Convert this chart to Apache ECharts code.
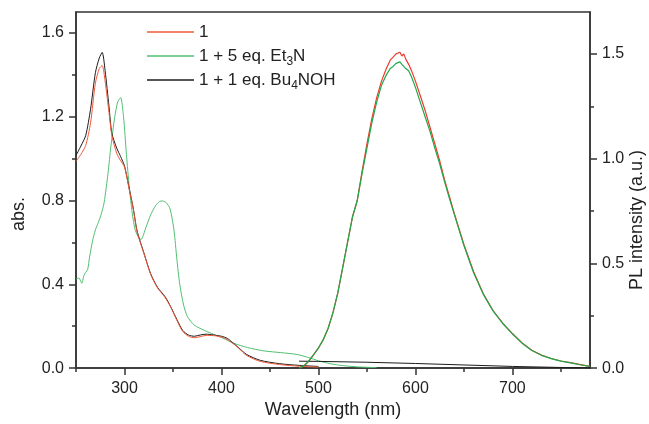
<!DOCTYPE html>
<html>
<head>
<meta charset="utf-8">
<script src="https://cdn.jsdelivr.net/npm/echarts@6/dist/echarts.min.js"></script>
<style>
  html, body { margin: 0; padding: 0; background: #fff; }
  #chart { width: 649px; height: 424px; }
</style>
</head>
<body>
<div id="chart"></div>
<script>
// absorption, shared wavelengths for "1" and Bu4NOH
const absWl = [250, 255, 260, 265, 270, 274, 277, 280, 284, 287, 292, 296, 300, 305, 309, 313, 320, 327, 334, 342, 348, 354, 360, 366, 372, 378, 384, 392, 400, 406, 412, 418, 426, 440, 460, 480, 500];
const absPlain = [0.987, 1.02, 1.063, 1.17, 1.36, 1.43, 1.444, 1.37, 1.22, 1.11, 1.025, 0.99, 0.96, 0.85, 0.76, 0.65, 0.548, 0.447, 0.383, 0.336, 0.288, 0.228, 0.175, 0.152, 0.145, 0.15, 0.156, 0.155, 0.148, 0.136, 0.117, 0.094, 0.06, 0.032, 0.017, 0.009, 0.005];
const absBu4NOH = [1.015, 1.06, 1.11, 1.236, 1.41, 1.48, 1.507, 1.42, 1.25, 1.12, 1.05, 1.01, 0.965, 0.855, 0.764, 0.655, 0.55, 0.45, 0.386, 0.34, 0.29, 0.232, 0.18, 0.158, 0.152, 0.158, 0.162, 0.158, 0.152, 0.142, 0.12, 0.096, 0.065, 0.037, 0.021, 0.013, 0.008];

// absorption with Et3N
const etWl = [250, 253, 256, 258, 260, 262, 264, 267, 270, 273, 276, 279, 283, 286, 290, 293, 296, 299, 302, 305, 308, 311, 315, 317, 322, 327, 332, 336, 339, 343, 347, 351, 354, 357, 361, 365, 372, 382, 392, 402, 413, 427, 444, 461, 478, 490, 500, 512, 525, 540, 560];
const absEt3N = [0.425, 0.43, 0.405, 0.44, 0.457, 0.47, 0.53, 0.606, 0.66, 0.695, 0.735, 0.79, 0.93, 1.06, 1.2, 1.27, 1.291, 1.2, 1.02, 0.86, 0.74, 0.66, 0.62, 0.614, 0.67, 0.732, 0.775, 0.795, 0.798, 0.79, 0.76, 0.66, 0.52, 0.4, 0.3, 0.245, 0.205, 0.181, 0.161, 0.142, 0.118, 0.098, 0.082, 0.074, 0.065, 0.05, 0.035, 0.021, 0.012, 0.006, 0.002];

// PL
const plWl = [480, 485, 490, 495, 500, 505, 510, 515, 520, 525, 530, 535, 540, 545, 550, 555, 560, 565, 570, 574, 577, 580, 582, 584, 586, 588, 590, 593, 596, 600, 605, 610, 615, 620, 625, 630, 635, 640, 645, 650, 660, 670, 680, 690, 700, 710, 720, 730, 740, 750, 760, 770, 780];
const plPlain = [0.0, 0.01, 0.032, 0.063, 0.095, 0.135, 0.19, 0.265, 0.36, 0.48, 0.6, 0.72, 0.8, 0.94, 1.07, 1.19, 1.29, 1.37, 1.43, 1.47, 1.485, 1.5, 1.492, 1.508, 1.49, 1.5, 1.475, 1.45, 1.42, 1.37, 1.3, 1.23, 1.15, 1.07, 0.99, 0.9, 0.82, 0.74, 0.665, 0.59, 0.46, 0.355, 0.275, 0.215, 0.165, 0.12, 0.085, 0.062, 0.046, 0.034, 0.026, 0.017, 0.008];
const plEt3N = [0.0, 0.012, 0.034, 0.065, 0.097, 0.137, 0.19, 0.265, 0.36, 0.48, 0.6, 0.72, 0.8, 0.93, 1.05, 1.17, 1.27, 1.35, 1.4, 1.43, 1.44, 1.455, 1.45, 1.462, 1.45, 1.455, 1.43, 1.42, 1.39, 1.34, 1.27, 1.2, 1.13, 1.05, 0.975, 0.89, 0.81, 0.735, 0.66, 0.585, 0.455, 0.352, 0.273, 0.213, 0.163, 0.119, 0.084, 0.061, 0.045, 0.033, 0.025, 0.016, 0.008];
const plBuWl = [480, 500, 550, 600, 650, 700, 750, 780];
const plBu4NOH = [0.033, 0.032, 0.028, 0.022, 0.015, 0.008, 0.003, 0.001];

const names = ['1', '1 + 5 eq. Et3N', '1 + 1 eq. Bu4NOH'];
const xMajor = [300, 400, 500, 600, 700];
const xMinor = [250, 350, 450, 550, 650, 750];
const leftMajor = [0, 0.4, 0.8, 1.2, 1.6];
const leftMinor = [0.2, 0.6, 1.0, 1.4];
const rightMajor = [0, 0.5, 1.0, 1.5];
const rightMinor = [0.25, 0.75, 1.25];

const zip = (xs, ys) => xs.map((x, i) => [x, ys[i]]);
const font = 'Liberation Sans, Arial, sans-serif';
const axisColor = '#333';

function majorAxis(extra) {
    return Object.assign({
        type: 'value',
        axisLine: { show: true, lineStyle: { color: axisColor, width: 1.5 } },
        axisTick: { show: true, inside: false, length: 7, lineStyle: { color: axisColor, width: 1.5 } },
        axisLabel: { color: '#222', fontSize: 16, fontFamily: font, margin: 12 },
        splitLine: { show: false }
    }, extra);
}
function minorAxis(extra) {
    return Object.assign({
        type: 'value',
        axisLine: { show: false },
        axisTick: { show: true, inside: false, length: 4, lineStyle: { color: axisColor, width: 1.5 } },
        axisLabel: { show: false },
        splitLine: { show: false }
    }, extra);
}

let chart = echarts.init(document.getElementById('chart'));
let option = {
    animation: false,
    backgroundColor: '#fff',
    grid: {
        left: 76, right: 59, top: 12, bottom: 52,
        show: true, borderColor: axisColor, borderWidth: 1.5
    },
    legend: {
        orient: 'vertical',
        left: 142,
        top: 15,
        icon: 'rect',
        itemWidth: 47,
        itemHeight: 1.3,
        itemGap: 0,
        data: names,
        textStyle: {
            fontSize: 17, fontFamily: font, color: '#222', lineHeight: 24,
            rich: {
                sub: { fontSize: 12, fontFamily: font, color: '#222', lineHeight: 12, padding: [12, 0, 0, 0] }
            }
        },
        formatter: function (name) {
            if (name === names[1]) return '1 + 5 eq. Et{sub|3}N';
            if (name === names[2]) return '1 + 1 eq. Bu{sub|4}NOH';
            return name;
        }
    },
    xAxis: [
        majorAxis({
            min: 250, max: 780, position: 'bottom',
            axisTick: { show: true, length: 7, customValues: xMajor, lineStyle: { color: axisColor, width: 1.5 } },
            axisLabel: { color: '#222', fontSize: 16, fontFamily: font, margin: 12, customValues: xMajor },
            name: 'Wavelength (nm)',
            nameLocation: 'middle',
            nameGap: 32,
            nameTextStyle: { fontSize: 18, fontFamily: font, color: '#222' }
        }),
        minorAxis({
            min: 250, max: 780, position: 'bottom',
            axisTick: { show: true, length: 4, customValues: xMinor, lineStyle: { color: axisColor, width: 1.5 } }
        })
    ],
    yAxis: [
        majorAxis({
            min: 0, max: 1.7, position: 'left',
            axisTick: { show: true, length: 7, customValues: leftMajor, lineStyle: { color: axisColor, width: 1.5 } },
            axisLabel: { color: '#222', fontSize: 16, fontFamily: font, margin: 12, customValues: leftMajor,
                formatter: v => v.toFixed(1) }
        }),
        minorAxis({
            min: 0, max: 1.7, position: 'left',
            axisTick: { show: true, length: 4, customValues: leftMinor, lineStyle: { color: axisColor, width: 1.5 } }
        }),
        majorAxis({
            min: 0, max: 1.7, position: 'right',
            axisTick: { show: true, length: 7, customValues: rightMajor, lineStyle: { color: axisColor, width: 1.5 } },
            axisLabel: { color: '#222', fontSize: 16, fontFamily: font, margin: 12, customValues: rightMajor,
                formatter: v => v.toFixed(1) }
        }),
        minorAxis({
            min: 0, max: 1.7, position: 'right',
            axisTick: { show: true, length: 4, customValues: rightMinor, lineStyle: { color: axisColor, width: 1.5 } }
        })
    ],
    graphic: [
        {
            type: 'text', x: 19, y: 214, rotation: Math.PI / 2,
            style: { text: 'abs.', font: '18px ' + font, fill: '#222', align: 'center', verticalAlign: 'middle' }
        },
        {
            type: 'text', x: 637, y: 220, rotation: Math.PI / 2,
            style: { text: 'PL intensity (a.u.)', font: '18px ' + font, fill: '#222', align: 'center', verticalAlign: 'middle' }
        }
    ],
    series: [
        { name: names[0], type: 'line', xAxisIndex: 0, yAxisIndex: 0, symbol: 'none', z: 3, smooth: 0.25,
          lineStyle: { color: '#f05a3a', width: 1 }, itemStyle: { color: '#f05a3a' }, data: zip(absWl, absPlain) },
        { name: names[1], type: 'line', xAxisIndex: 0, yAxisIndex: 0, symbol: 'none', z: 2, smooth: 0.25,
          lineStyle: { color: '#52bf72', width: 1 }, itemStyle: { color: '#52bf72' }, data: zip(etWl, absEt3N) },
        { name: names[2], type: 'line', xAxisIndex: 0, yAxisIndex: 0, symbol: 'none', z: 2, smooth: 0.25,
          lineStyle: { color: '#1c1c1c', width: 1 }, itemStyle: { color: '#1c1c1c' }, data: zip(absWl, absBu4NOH) },
        { name: names[0], type: 'line', xAxisIndex: 0, yAxisIndex: 2, symbol: 'none', z: 2,
          lineStyle: { color: '#ee3b2b', width: 1.2 }, itemStyle: { color: '#ee3b2b' }, data: zip(plWl, plPlain) },
        { name: names[1], type: 'line', xAxisIndex: 0, yAxisIndex: 2, symbol: 'none', z: 3,
          lineStyle: { color: '#1ea84a', width: 1.2 }, itemStyle: { color: '#1ea84a' }, data: zip(plWl, plEt3N) },
        { name: names[2], type: 'line', xAxisIndex: 0, yAxisIndex: 2, symbol: 'none', z: 2,
          lineStyle: { color: '#1c1c1c', width: 1 }, itemStyle: { color: '#1c1c1c' }, data: zip(plBuWl, plBu4NOH) }
    ]
};
chart.setOption(option);
</script>
</body>
</html>
